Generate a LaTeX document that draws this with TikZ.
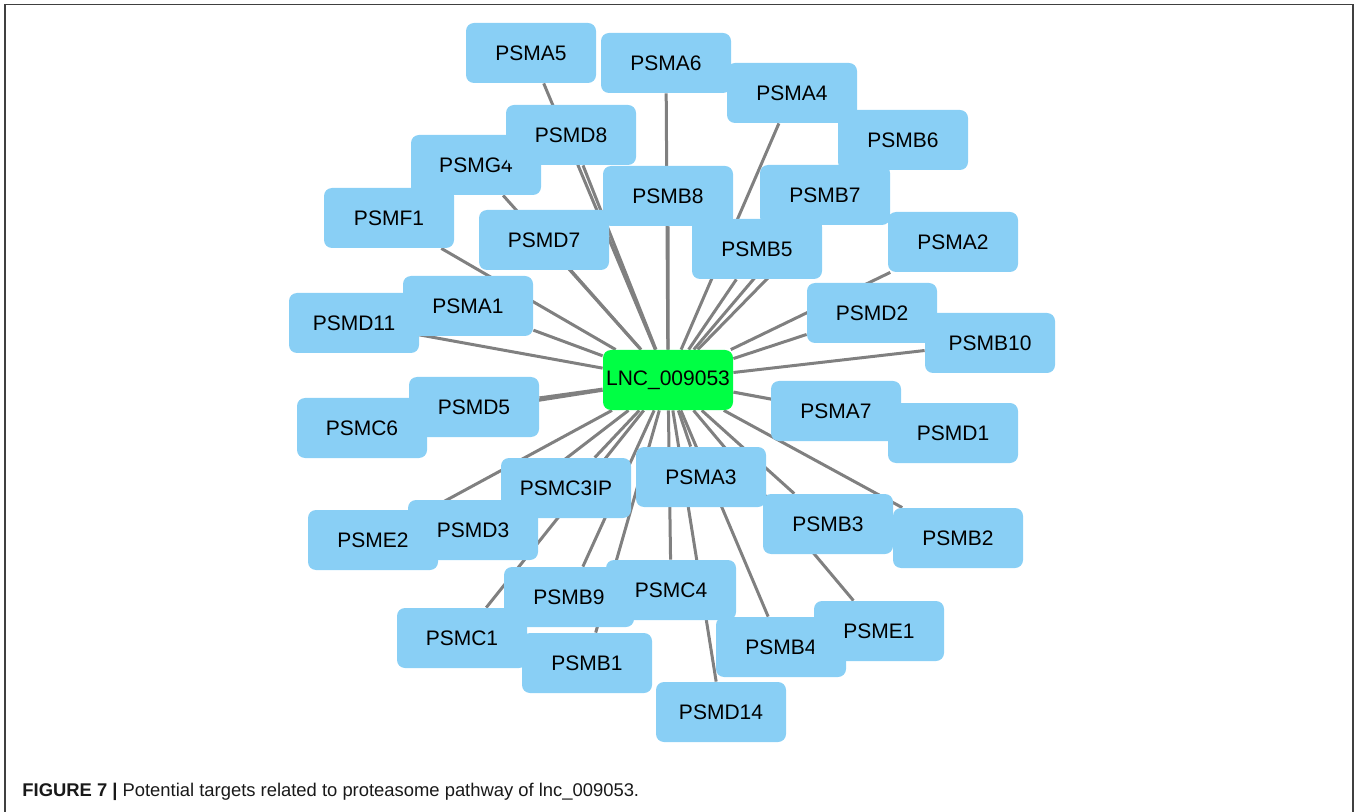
\documentclass[tikz,border=0pt]{standalone}
\usepackage{fontspec}
\setmainfont{Liberation Sans}
\usetikzlibrary{backgrounds}

\definecolor{boxblue}{RGB}{137,207,245}
\definecolor{lncgreen}{RGB}{0,255,68}
\definecolor{edgegray}{RGB}{128,128,128}

\begin{document}
\begin{tikzpicture}[x=0.5pt,y=-0.5pt,
    gene/.style={fill=boxblue,rounded corners=4pt,minimum width=65pt,minimum height=30pt,
      inner sep=0pt,font=\fontsize{10.5}{12}\selectfont},
    hub/.style={gene,fill=lncgreen},
    link/.style={draw=edgegray,line width=1.5pt}]
      \useasboundingbox (0,0) rectangle (1359,812);
      \draw[black!75,line width=0.8pt] (5,812) -- (5,4.5) -- (1353,4.5) -- (1353,812);

      \node[hub] (lnc) at (668,380) {LNC\_009053};

      \node[gene] (a5) at (531,53) {PSMA5};
      \node[gene] (a6) at (666,63) {PSMA6};
      \node[gene] (a4) at (792,93) {PSMA4};
      \node[gene] (b6) at (903,140) {PSMB6};
      \node[gene] (f1) at (389,218) {PSMF1};
      \node[gene] (g4) at (476,165) {PSMG4};
      \node[gene] (d8) at (571,135) {PSMD8};
      \node[gene] (d7) at (544,240) {PSMD7};
      \node[gene] (b5) at (757,249) {PSMB5};
      \node[gene] (b8) at (668,196) {PSMB8};
      \node[gene] (b7) at (825,195) {PSMB7};
      \node[gene] (a2) at (953,242) {PSMA2};
      \node[gene] (d11) at (354,323) {PSMD11};
      \node[gene] (a1) at (468,306) {PSMA1};
      \node[gene] (d2) at (872,313) {PSMD2};
      \node[gene] (b10) at (990,343) {PSMB10};
      \node[gene] (c6) at (362,428) {PSMC6};
      \node[gene] (d5) at (474,407) {PSMD5};
      \node[gene] (a7) at (836,411) {PSMA7};
      \node[gene] (d1) at (953,433) {PSMD1};
      \node[gene] (e2) at (373,540) {PSME2};
      \node[gene] (d3) at (473,530) {PSMD3};
      \node[gene] (c3ip) at (566,488) {PSMC3IP};
      \node[gene] (a3) at (701,477) {PSMA3};
      \node[gene] (b3) at (828,524) {PSMB3};
      \node[gene] (b2) at (958,538) {PSMB2};
      \node[gene] (c1) at (462,638) {PSMC1};
      \node[gene] (b1) at (587,663) {PSMB1};
      \node[gene] (b9) at (569,597) {PSMB9};
      \node[gene] (c4) at (671,590) {PSMC4};
      \node[gene] (d14) at (721,712) {PSMD14};
      \node[gene] (b4) at (781,647) {PSMB4};
      \node[gene] (e1) at (879,631) {PSME1};

      \begin{scope}[on background layer]
      \begin{scope}[link]
      \draw (a5) -- (lnc) -- (a6);
      \draw (a4) -- (lnc) -- (b6);
      \draw (f1) -- (lnc) -- (g4);
      \draw (d8) -- (lnc) -- (d7);
      \draw (b5) -- (lnc) -- (b8);
      \draw (b7) -- (lnc) -- (a2);
      \draw (d11) -- (lnc) -- (a1);
      \draw (d2) -- (lnc) -- (b10);
      \draw (c6) -- (lnc) -- (d5);
      \draw (a7) -- (lnc) -- (d1);
      \draw (e2) -- (lnc) -- (d3);
      \draw (c3ip) -- (lnc) -- (a3);
      \draw (b3) -- (lnc) -- (b2);
      \draw (c1) -- (lnc) -- (b1);
      \draw (b9) -- (lnc) -- (c4);
      \draw (d14) -- (lnc) -- (b4);
      \draw (e1) -- (lnc);
      \end{scope}
      \end{scope}

      \node[anchor=west,inner sep=0pt,text=black!90,font=\fontsize{9.2}{11}\selectfont] (cap) at (22,792)
        {\textbf{FIGURE 7 |} Potential targets related to proteasome pathway of lnc\_009053.};
    \end{tikzpicture}
\end{document}
